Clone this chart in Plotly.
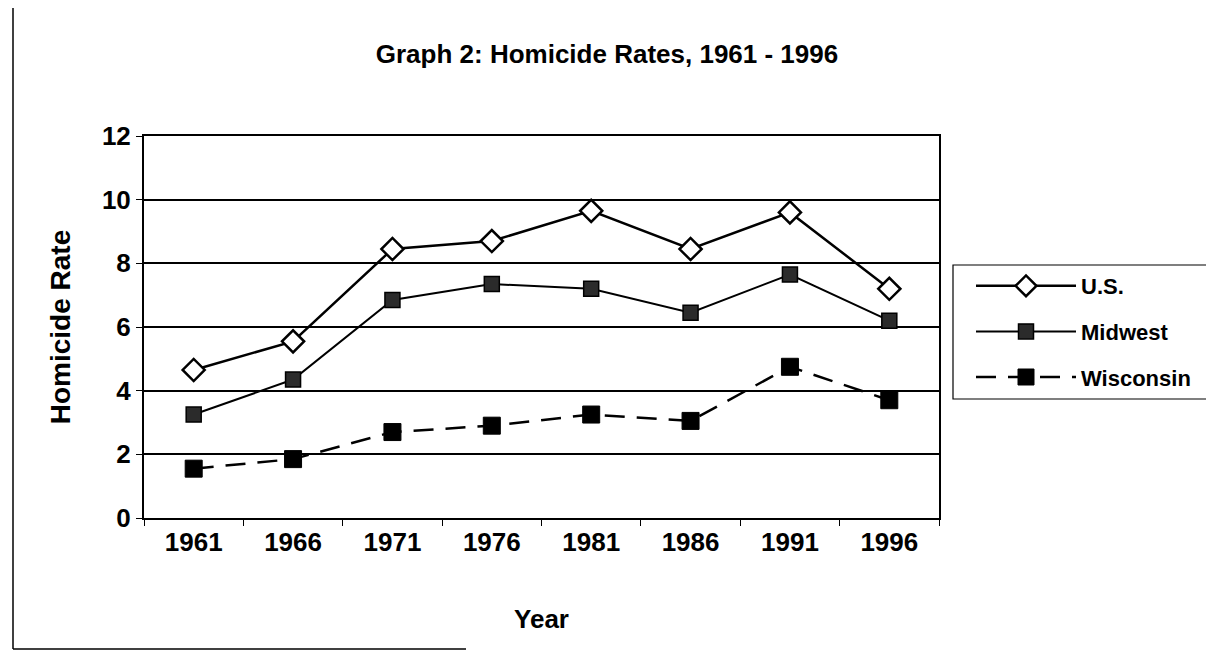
import plotly.graph_objects as go

years = ["1961", "1966", "1971", "1976", "1981", "1986", "1991", "1996"]
us = [4.65, 5.55, 8.45, 8.7, 9.65, 8.45, 9.6, 7.2]
midwest = [3.25, 4.35, 6.85, 7.35, 7.2, 6.45, 7.65, 6.2]
wisconsin = [1.55, 1.85, 2.7, 2.9, 3.25, 3.05, 4.75, 3.7]

FONT = "Liberation Sans, Arial, sans-serif"
OFF = 8  # page offset of the figure inside the browser window
W, H = 1214 - OFF, 653 - OFF
# desired plot area in screen pixels
PX0, PX1, PY0, PY1 = 144, 939, 136, 518
L = PX0 - OFF
T = PY0 - OFF
R = W - (PX1 - OFF)
B = H - (PY1 - OFF)
pw = PX1 - PX0
ph = PY1 - PY0

def px_to_paper_x(px):
    return (px - PX0) / pw

def px_to_paper_y(py):
    return (PY1 - py) / ph

fig = go.Figure()
fig.add_trace(go.Scatter(
    x=years, y=us, name="U.S.", mode="lines+markers",
    line=dict(color="black", width=2.5),
    marker=dict(symbol="diamond", size=17, color="white", line=dict(color="black", width=2.5)),
    legendgroup="a",
))
fig.add_trace(go.Scatter(
    x=years, y=midwest, name="Midwest", mode="lines+markers",
    line=dict(color="black", width=2),
    marker=dict(symbol="square", size=15, color="#2b2b2b", line=dict(color="black", width=1.5)),
    legendgroup="b",
))
fig.add_trace(go.Scatter(
    x=years, y=wisconsin, name="Wisconsin", mode="lines+markers",
    line=dict(color="black", width=2.5, dash="20px,12px"),
    marker=dict(symbol="square", size=17, color="black", line=dict(color="black", width=1)),
    legendgroup="c",
))

fig.update_layout(
    width=W, height=H,
    margin=dict(l=L, r=R, t=T, b=B),
    paper_bgcolor="white", plot_bgcolor="white",
    font=dict(family=FONT, color="black"),
    title=dict(
        text="Graph 2: Homicide Rates, 1961 - 1996",
        font=dict(family=FONT, size=26, color="black", weight="bold"),
        x=px_to_paper_x(607), xref="paper", xanchor="center",
        y=1 - (54 - OFF) / H, yref="container", yanchor="middle",
    ),
    xaxis=dict(
        type="category", range=[-0.5, 7.5],
        showline=True, linecolor="black", linewidth=2, mirror=True,
        ticks="outside", tickson="boundaries", ticklen=6, tickcolor="black", tickwidth=1,
        tickfont=dict(family=FONT, size=26, color="black", weight="bold"),
        showgrid=False,
        title=dict(text="Year", font=dict(family=FONT, size=26, color="black", weight="bold"), standoff=54),
    ),
    yaxis=dict(
        range=[0, 12], tickvals=[0, 2, 4, 6, 8, 10, 12],
        showline=True, linecolor="black", linewidth=2, mirror=True,
        ticks="outside", ticklen=6, tickcolor="black", tickwidth=1,
        tickfont=dict(family=FONT, size=26, color="black", weight="bold"),
        showgrid=True, gridcolor="black", gridwidth=1.5,
        zeroline=False,
        title=dict(text="Homicide Rate", font=dict(family=FONT, size=28, color="black", weight="bold"), standoff=23),
    ),
    legend=dict(
        x=px_to_paper_x(971), y=px_to_paper_y(265), xanchor="left", yanchor="top",
        borderwidth=0, bgcolor="rgba(0,0,0,0)",
        font=dict(family=FONT, size=22, color="black", weight="bold"),
        itemwidth=100, tracegroupgap=14, traceorder="grouped",
    ),
    showlegend=True,
)

# legend frame
fig.add_shape(
    type="rect", xref="paper", yref="paper",
    x0=px_to_paper_x(953), x1=px_to_paper_x(1209),
    y0=px_to_paper_y(399), y1=px_to_paper_y(265),
    line=dict(color="black", width=1.2), fillcolor="white", layer="below",
)

# outer chart frame (partially faded in the scan)
frame_segments = [
    (13, 5, 1214, 5),
    (13, 5, 13, 649),
    (13, 649, 466, 649),
    (1212, 617, 1212, 653),
]
for x0, y0, x1, y1 in frame_segments:
    fig.add_shape(
        type="line", xref="paper", yref="paper",
        x0=px_to_paper_x(x0), x1=px_to_paper_x(x1),
        y0=px_to_paper_y(y0), y1=px_to_paper_y(y1),
        line=dict(color="black", width=1.5), layer="below",
    )

fig.write_html("out.html")
